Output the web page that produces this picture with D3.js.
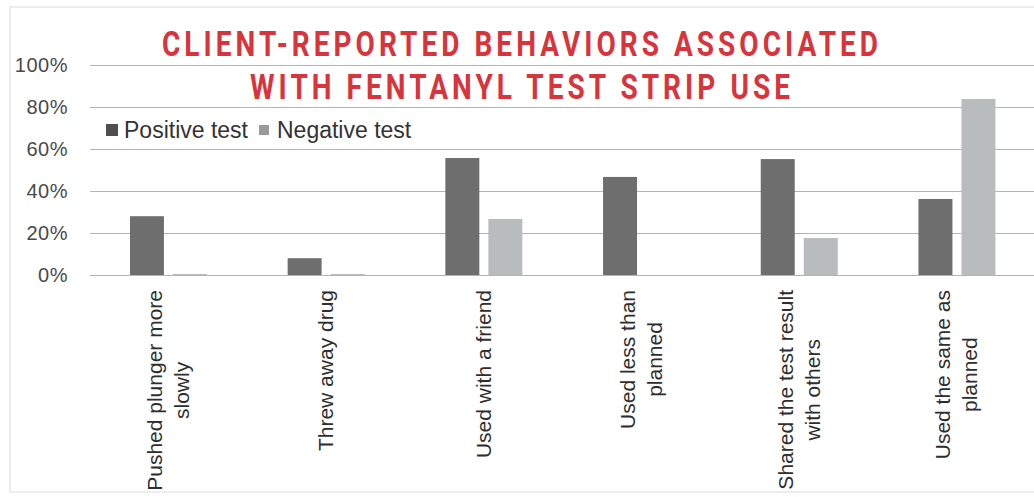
<!DOCTYPE html>
<html>
<head>
<meta charset="utf-8">
<script src="https://cdn.jsdelivr.net/npm/d3@7"></script>
<style>
  body { margin: 0; background: #fff; }
  svg { display: block; }
</style>
</head>
<body>
<script>
// chart values
var categories = [
	['Pushed plunger more', 'slowly'],
	['Threw away drug'],
	['Used with a friend'],
	['Used less than', 'planned'],
	['Shared the test result', 'with others'],
	['Used the same as', 'planned']
]
var series = ['Positive test', 'Negative test']
var positive = [28, 8, 55.7, 46.7, 55.2, 36.2]
var negative = [0.5, 0.5, 26.7, 0, 17.6, 83.8]
var yTicks = [0, 20, 40, 60, 80, 100]
var title = ['CLIENT-REPORTED BEHAVIORS ASSOCIATED', 'WITH FENTANYL TEST STRIP USE']

const W = 1034, H = 497
const colors = { 'Positive test': '#6e6e6e', 'Negative test': '#b8bcbc' }
const font = 'Liberation Sans, Arial, sans-serif'

const rows = categories.map((c, i) => {
	return { key: c.join(' '), lines: c, values: [positive[i], negative[i]] }
})

const svg = d3.select('body').append('svg').attr('width', W).attr('height', H)

// faint frame of the photographed slide
svg.append('rect')
	.attr('x', 10).attr('y', 7)
	.attr('width', W + 10).attr('height', 485)
	.attr('fill', 'none').attr('stroke', '#dcdcdc')

const x0 = d3.scaleBand()
	.domain(rows.map((d) => d.key))
	.range([89.6, 1035.8])

const x1 = d3.scaleBand()
	.domain(series)
	.range([x0.bandwidth() / 2 - 38.5, x0.bandwidth() / 2 + 38.5])
	.paddingInner(0.21)

const y = d3.scaleLinear().domain([0, 100]).range([275, 65])

// gridlines + tick labels
const yAxis = d3.axisLeft(y)
	.tickValues(yTicks)
	.tickSize(-(W - 90))
	.tickPadding(22)
	.tickFormat((d) => d + '%')

svg.append('g')
	.attr('transform', 'translate(90,0)')
	.call(yAxis)
	.call((g) => g.select('.domain').remove())
	.call((g) => g.selectAll('line').attr('stroke', '#b4b4b4').attr('stroke-width', 1.2))
	.call((g) => g.selectAll('text')
		.attr('fill', '#4a4a4a')
		.style('font-family', font)
		.style('font-size', '20px')
		.style('letter-spacing', '0.5px'))

// bars
const groups = svg.selectAll('g.group')
	.data(rows)
	.enter().append('g')
		.attr('class', 'group')
		.attr('transform', (d) => 'translate(' + x0(d.key) + ',0)')

groups.selectAll('rect')
	.data((d) => d.values.map((v, i) => ({ s: series[i], v: v })))
	.enter().append('rect')
		.attr('x', (d) => x1(d.s))
		.attr('y', (d) => y(d.v))
		.attr('width', x1.bandwidth())
		.attr('height', (d) => y(0) - y(d.v))
		.attr('fill', (d) => colors[d.s])

// rotated category labels, block end-aligned near the axis, lines centred
const labelTop = 290
const lineGap = 27
rows.forEach((d) => {
	const cx = x0(d.key) + x0.bandwidth() / 2
	const g = svg.append('g')
	const texts = d.lines.map((line) => g.append('text')
		.text(line)
		.attr('fill', '#2e2e2e')
		.attr('text-anchor', 'middle')
		.style('font-family', font)
		.style('font-size', '21px'))
	const longest = d3.max(texts, (t) => t.node().getComputedTextLength())
	const midY = labelTop + longest / 2
	const n = d.lines.length
	texts.forEach((t, i) => {
		const lx = cx + (i - (n - 1) / 2) * lineGap + 7
		t.attr('transform', 'translate(' + lx + ',' + midY + ') rotate(-90)')
	})
})

// legend
let lx = 106
series.forEach((s, i) => {
	svg.append('rect')
		.attr('x', lx).attr('y', i === 0 ? 124 : 125)
		.attr('width', i === 0 ? 12 : 10).attr('height', i === 0 ? 12 : 10)
		.attr('fill', i === 0 ? '#4f4f4f' : '#9a9a9a')
	const t = svg.append('text')
		.attr('x', lx + 18).attr('y', 138)
		.attr('fill', '#333')
		.style('font-family', font)
		.style('font-size', '23px')
		.text(s)
	lx += 18 + t.node().getComputedTextLength() + 11
})

// title: squeezed glyphs, wide tracking
const titleW = [716, 540]
const squeeze = 0.8
title.forEach((line, i) => {
	svg.append('text')
		.attr('transform', 'scale(' + squeeze + ',1)')
		.attr('x', 520 / squeeze).attr('y', i === 0 ? 56 : 99)
		.attr('text-anchor', 'middle')
		.attr('fill', '#d8343c')
		.attr('textLength', titleW[i] / squeeze)
		.attr('lengthAdjust', 'spacing')
		.style('font-family', 'Roboto, DejaVu Sans, sans-serif')
		.style('font-weight', 'bold')
		.style('font-size', '35px')
		.text(line)
})
</script>
</body>
</html>
